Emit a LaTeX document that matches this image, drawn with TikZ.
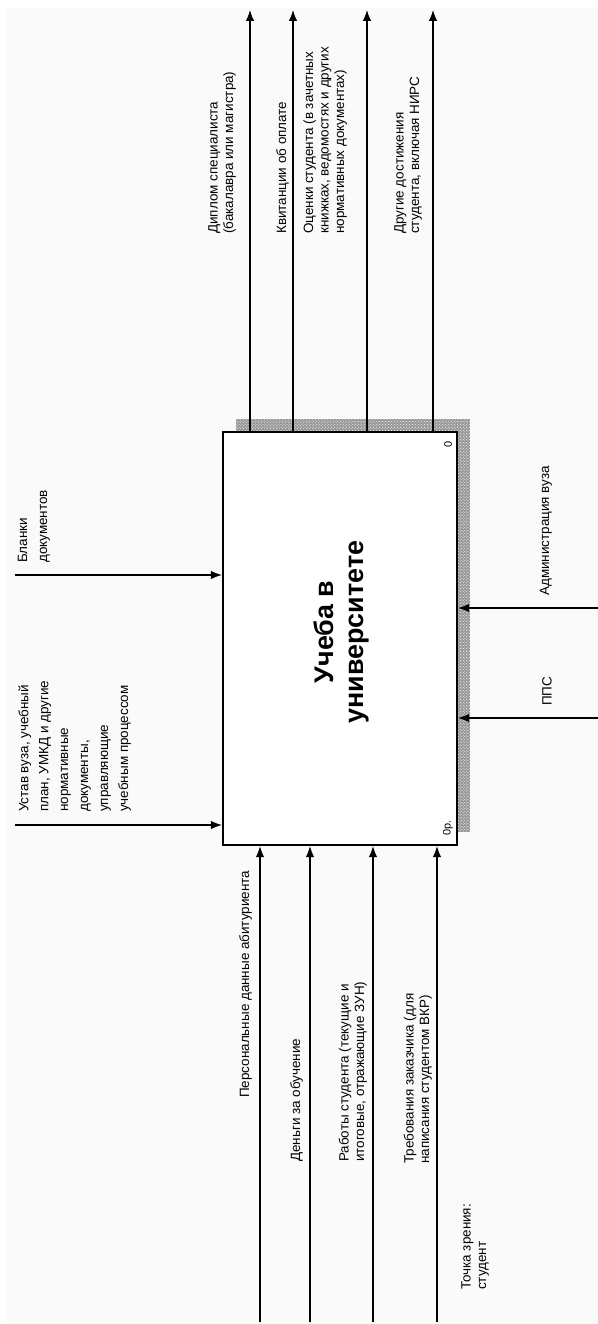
\documentclass[tikz,border=0pt]{standalone}
\usepackage{fontspec}
\setmainfont{Liberation Sans}
\usetikzlibrary{positioning,arrows.meta,patterns}
\definecolor{pagegrey}{RGB}{250,250,250}
\definecolor{shadegrey}{RGB}{150,150,150}

\begin{document}
\begin{tikzpicture}[
    x=1bp, y=-1bp,
    >={Latex[length=11bp,width=8.5bp]},
    func/.style={
        draw,
        line width=2.2bp,
        fill=white,
        minimum width=234bp,
        minimum height=413bp,
        inner sep=0pt
    },
    functitle/.style={
        rotate=90,
        align=center,
        font=\fontsize{27}{30}\selectfont\bfseries
    },
    arrowtext/.style={
        rotate=90,
        anchor=south west,
        align=left,
        inner sep=0pt,
        font=\fontsize{13.5}{15.5}\selectfont
    },
    cornertext/.style={
        rotate=90,
        inner sep=0pt,
        font=\fontsize{11}{12}\selectfont
    },
    arrow/.style={->, line width=1.2bp}
]

\useasboundingbox (0,0) rectangle (598,1324);
\fill[pagegrey] (7,8) rectangle (598,1324);

% FUNCTION BLOCK
\fill[shadegrey] (236,419) rectangle (470,832);
\fill[pattern=crosshatch dots, pattern color=white]
    (236,419) rectangle (470,832);
\node[func] (fn) at (340,638.5) {};

\node[functitle] (fntitle) at (341,632)
{Учеба в\\университете};

\node[cornertext] (num) at (448,444) {0};
\node[cornertext] (cost) at (448,828) {0р.};

% OUTPUTS
\coordinate (dipend) at (250,10);
\coordinate (kvitend) at (293,10);
\coordinate (ocenend) at (367,10);
\coordinate (drugend) at (433,10);

\draw[arrow] (fn.north -| dipend) -- (dipend);
\draw[arrow] (fn.north -| kvitend) -- (kvitend);
\draw[arrow] (fn.north -| ocenend) -- (ocenend);
\draw[arrow] (fn.north -| drugend) -- (drugend);

\node[arrowtext] (dip) at (236,234)
{Диплом специалиста\\(бакалавра или магистра)};
\node[arrowtext] (kvit) at (289,234)
{Квитанции об оплате};
\node[arrowtext] (ocen) at (347,234)
{Оценки студента (в зачетных\\книжках, ведомостях и других\\нормативных документах)};
\node[arrowtext] (drug) at (422,234)
{Другие достижения\\студента, включая НИРС};

% CONTROLS FROM THE LEFT
\coordinate (blankstart) at (15,575);
\coordinate (ustavstart) at (15,825);

\draw[arrow] (blankstart) -- (fn.west |- blankstart);
\draw[arrow] (ustavstart) -- (fn.west |- ustavstart);

\node[arrowtext, font=\fontsize{13.5}{20}\selectfont] (blank) at (50,563)
{Бланки\\документов};
\node[arrowtext, font=\fontsize{13.5}{20}\selectfont] (ustav) at (131,812)
{Устав вуза, учебный\\план, УМКД и другие\\нормативные\\документы,\\управляющие\\учебным процессом};

% INPUTS FROM BELOW
\coordinate (persstart) at (260,1322);
\coordinate (dengstart) at (310,1322);
\coordinate (rabstart) at (373,1322);
\coordinate (trebstart) at (437,1322);

\draw[arrow] (persstart) -- (fn.south -| persstart);
\draw[arrow] (dengstart) -- (fn.south -| dengstart);
\draw[arrow] (rabstart) -- (fn.south -| rabstart);
\draw[arrow] (trebstart) -- (fn.south -| trebstart);

\node[arrowtext] (pers) at (252,1098)
{Персональные данные абитуриента};
\node[arrowtext] (deng) at (303,1162)
{Деньги за обучение};
\node[arrowtext] (rab) at (367,1162)
{Работы студента (текущие и\\итоговые, отражающие ЗУН)};
\node[arrowtext] (treb) at (432,1164)
{Требования заказчика (для\\написания студентом ВКР)};

% MECHANISMS FROM THE RIGHT
\coordinate (admstart) at (598,608);
\coordinate (ppsstart) at (598,718);

\draw[arrow] (admstart) -- (fn.east |- admstart);
\draw[arrow] (ppsstart) -- (fn.east |- ppsstart);

\node[arrowtext] (adm) at (552,596)
{Администрация вуза};
\node[arrowtext] (pps) at (552,706)
{ППС};

% VIEWPOINT
\node[arrowtext] (view) at (489,1290)
{Точка зрения:\\студент};

\end{tikzpicture}
\end{document}
